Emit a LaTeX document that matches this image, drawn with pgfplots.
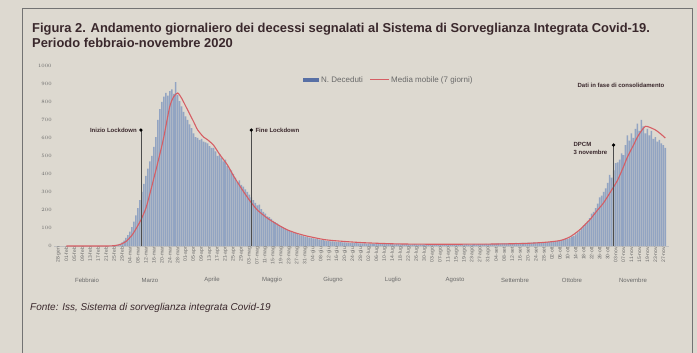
\documentclass[border=0pt]{standalone}
\usepackage{fontspec}
\setmainfont{Liberation Sans}
\usepackage{pgfplots}
\pgfplotsset{compat=1.18}
\definecolor{paper}{RGB}{221,217,208}
\definecolor{barblue}{RGB}{146,164,194}
\definecolor{legblue}{RGB}{88,112,165}
\definecolor{mred}{RGB}{214,94,100}
\definecolor{ttl}{RGB}{58,40,44}
\definecolor{lbl}{RGB}{105,105,105}
\begin{document}
\begin{tikzpicture}
\fill[paper] (0,0) rectangle (697pt,353pt);
\useasboundingbox (0,0) rectangle (697pt,353pt);
\draw[black!55, line width=0.8pt] (22pt,0pt) -- (22pt,344.5pt) -- (692pt,344.5pt) -- (692pt,0pt);
\node[anchor=base west, inner sep=0, text=ttl, font=\bfseries\fontsize{12.9}{14}\selectfont] at (32pt,320pt) {Figura 2. Andamento giornaliero dei decessi segnalati al Sistema di Sorveglianza Integrata Covid-19.};
\node[anchor=base west, inner sep=0, text=ttl, font=\bfseries\fontsize{12.9}{14}\selectfont] at (32pt,305pt) {Periodo febbraio-novembre 2020};
\node[anchor=base west, inner sep=0, text=ttl, font=\itshape\fontsize{10}{12}\selectfont] at (30pt,42pt) {Fonte: Iss, Sistema di sorveglianza integrata Covid-19};
% legend
\fill[legblue] (303pt,270.5pt) rectangle (319pt,275pt);
\node[anchor=west, inner sep=0, text=lbl, font=\fontsize{8}{9}\selectfont] at (321pt,273pt) {N. Deceduti};
\draw[mred, line width=1pt] (370pt,273pt) -- (389pt,273pt);
\node[anchor=west, inner sep=0, text=lbl, font=\fontsize{8}{9}\selectfont] at (391pt,273pt) {Media mobile (7 giorni)};
\node[inner sep=0, text=ttl, font=\bfseries\fontsize{6}{7}\selectfont] at (621pt,268pt) {Dati in fase di consolidamento};
% month labels
\foreach \x/\m in {87/Febbraio,150/Marzo,212/Aprile,272/Maggio,333/Giugno,393/Luglio,455/Agosto,515/Settembre,572/Ottobre,633/Novembre}{
  \node[inner sep=0, text=lbl, font=\fontsize{6}{7}\selectfont] at (\x pt,73pt) {\m};
}
\begin{axis}[
  at={(54.36pt,107pt)}, anchor=south west,
  scale only axis, width=614.9pt, height=180pt,
  xmin=-6, xmax=303, ymin=0, ymax=1000,
  axis x line*=bottom, axis y line*=left,
  y axis line style={draw=none},
  x axis line style={draw=black!25, -},
  major tick length=0pt,
  ytick={0,100,...,1000},
  yticklabel style={font=\fontsize{5.5}{6}\selectfont, text=lbl, inner sep=1pt, xshift=-1.5pt, /pgf/number format/1000 sep={}},
  xtick={-4,0,...,300},
  xticklabels={28-gen,01-feb,05-feb,09-feb,13-feb,17-feb,21-feb,25-feb,29-feb,04-mar,08-mar,12-mar,16-mar,20-mar,24-mar,28-mar,01-apr,05-apr,09-apr,13-apr,17-apr,21-apr,25-apr,29-apr,03-mag,07-mag,11-mag,15-mag,19-mag,23-mag,27-mag,31-mag,04-giu,08-giu,12-giu,16-giu,20-giu,24-giu,28-giu,02-lug,06-lug,10-lug,14-lug,18-lug,22-lug,26-lug,30-lug,03-ago,07-ago,11-ago,15-ago,19-ago,23-ago,27-ago,31-ago,04-set,08-set,12-set,16-set,20-set,24-set,28-set,02-ott,06-ott,10-ott,14-ott,18-ott,22-ott,26-ott,30-ott,03-nov,07-nov,11-nov,15-nov,19-nov,23-nov,27-nov},
  xticklabel style={rotate=90, anchor=east, font=\fontsize{5}{5}\selectfont, text=lbl, inner sep=1pt},
  clip=false,
]
\addplot[ybar, bar width=1.5pt, fill=barblue, draw=none] coordinates {
(22,1)(23,1)(24,2)(25,4)(26,7)(27,12)(28,20)(29,30)(30,45)(31,60)(32,80)(33,105)(34,135)(35,170)(36,210)(37,255)(38,300)(39,345)(40,390)(41,430)(42,470)(43,500)(44,550)(45,605)(46,700)(47,760)(48,800)(49,830)(50,850)(51,835)(52,860)(53,870)(54,845)(55,910)(56,840)(57,805)(58,775)(59,745)(60,720)(61,700)(62,675)(63,655)(64,625)(65,605)(66,600)(67,590)(68,595)(69,580)(70,575)(71,570)(72,555)(73,545)(74,545)(75,525)(76,500)(77,510)(78,490)(79,470)(80,480)(81,445)(82,430)(83,420)(84,400)(85,380)(86,355)(87,365)(88,340)(89,330)(90,315)(91,300)(92,285)(93,270)(94,255)(95,240)(96,225)(97,230)(98,205)(99,190)(100,180)(101,165)(102,160)(103,150)(104,140)(105,132)(106,125)(107,118)(108,110)(109,104)(110,96)(111,90)(112,86)(113,80)(114,75)(115,72)(116,67)(117,62)(118,59)(119,55)(120,52)(121,50)(122,47)(123,44)(124,42)(125,40)(126,38)(127,36)(128,33)(129,32)(130,30)(131,28)(132,27)(133,26)(134,25)(135,24)(136,23)(137,22)(138,21)(139,20)(140,20)(141,19)(142,18)(143,18)(144,17)(145,16)(146,16)(147,15)(148,15)(149,14)(150,14)
(151,13)(152,14)(153,12)(154,13)(155,12)(156,11)(157,12)(158,11)(159,12)(160,10)(161,11)(162,10)(163,11)(164,10)(165,9)(166,10)(167,11)(168,9)(169,10)(170,9)(171,10)(172,9)(173,8)(174,9)(175,10)(176,9)(177,8)(178,9)(179,8)(180,9)(181,8)(182,9)(183,7)(184,8)(185,9)(186,8)(187,7)(188,8)(189,9)(190,8)(191,7)(192,8)(193,9)(194,8)(195,8)(196,9)(197,8)(198,9)(199,8)(200,9)(201,10)(202,9)(203,8)(204,9)(205,10)(206,9)(207,10)(208,11)(209,10)(210,11)(211,12)(212,11)(213,12)(214,13)(215,12)(216,13)(217,14)(218,13)(219,14)(220,15)(221,14)(222,15)(223,16)(224,15)(225,16)(226,17)(227,16)(228,17)(229,18)(230,17)(231,18)(232,19)(233,18)(234,19)(235,20)(236,19)(237,20)(238,21)(239,20)(240,21)(241,22)(242,21)
(243,22)(244,24)(245,25)(246,27)(247,28)(248,30)(249,32)(250,35)(251,38)(252,40)(253,45)(254,52)(255,55)(256,65)(257,75)(258,85)(259,100)(260,115)(261,125)(262,140)(263,155)(264,180)(265,190)(266,210)(267,235)(268,270)(269,280)(270,300)(271,320)(272,350)(273,395)(274,380)(275,420)(276,460)(277,465)(278,480)(279,515)(280,505)(281,560)(282,615)(283,585)(284,625)(285,600)(286,650)(287,680)(288,640)(289,700)(290,665)(291,625)(292,650)(293,615)(294,640)(295,595)(296,605)(297,580)(298,590)(299,570)(300,560)(301,545)
};
\addplot[mred, line width=1.1pt, smooth, tension=0.4] coordinates {
(0,0)(20,0)(24,2)(27,8)(30,25)(33,60)(35,95)(37.5,145)(40,210)(42,290)(45,420)(47,510)(49,605)(52,775)(54,830)(56,850)(58,820)(61,755)(64,690)(66,645)(69,605)(71,590)(74,560)(77,510)(81,450)(84,390)(88,320)(92,255)(96,200)(101,155)(106,120)(111,90)(116,70)(121,55)(130,35)(140,25)(150,18)(165,12)(180,10)(200,10)(215,11)(230,14)(240,20)(248,30)(253,50)(258,90)(263,145)(267,200)(270,240)(274,310)(277,365)(280,440)(282,495)(285,560)(287,605)(289,640)(291,665)(293,660)(296,645)(299,620)(301,600)
};
% annotations
\draw[black!70, line width=0.5pt] (axis cs:37.5,0) -- (axis cs:37.5,644);
\fill[black] (axis cs:37.5,644) circle (1.8pt);
\node[anchor=east, inner sep=0, text=ttl, font=\bfseries\fontsize{6}{7}\selectfont, xshift=-4pt] at (axis cs:37.5,644) {Inizio Lockdown};
\draw[black!70, line width=0.5pt] (axis cs:93,0) -- (axis cs:93,644);
\fill[black] (axis cs:93,644) circle (1.8pt);
\node[anchor=west, inner sep=0, text=ttl, font=\bfseries\fontsize{6}{7}\selectfont, xshift=4pt] at (axis cs:93,644) {Fine Lockdown};
\draw[black!70, line width=0.5pt] (axis cs:275,0) -- (axis cs:275,561);
\fill[black] (axis cs:275,561) circle (1.8pt);
\node[anchor=north east, inner sep=0, text=ttl, align=left, font=\bfseries\fontsize{6}{8}\selectfont, xshift=-6pt, yshift=3pt] at (axis cs:275,561) {DPCM\\3 novembre};
\end{axis}
\end{tikzpicture}
\end{document}
